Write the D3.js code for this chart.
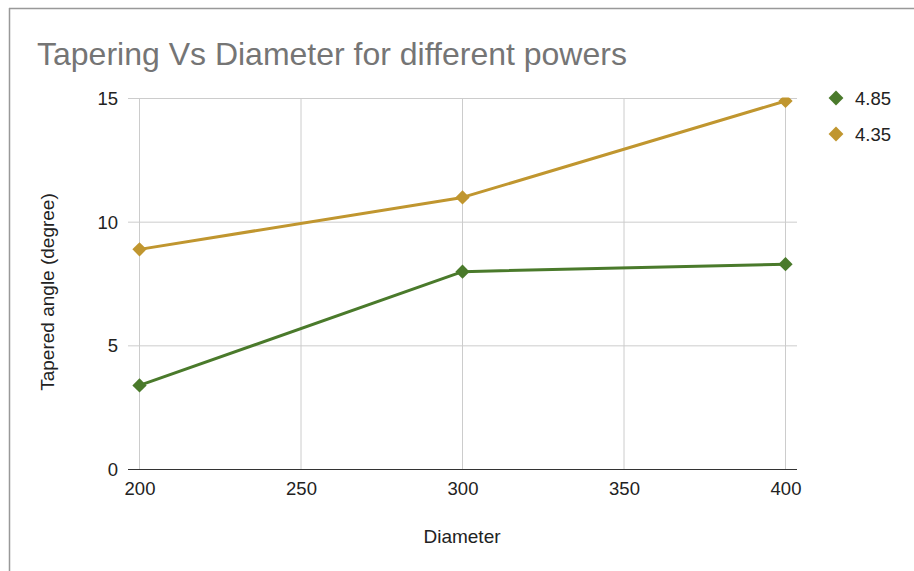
<!DOCTYPE html>
<html lang="en">
<head>
<meta charset="UTF-8">
<title>Tapering Vs Diameter</title>
<style>
    body { margin: 0; background: #fff; }
    svg { display: block; font-family: "Liberation Sans", Arial, sans-serif; }
    .tick text { font-size: 18.5px; fill: #222; }
</style>
</head>
<body>
<svg width="914" height="571"></svg>
<script src="https://d3js.org/d3.v7.min.js"></script>
<script>

var diameters = [200, 300, 400];
var series = ["4.85", "4.35"];
var values485 = [3.4, 8.0, 8.3];
var values435 = [8.9, 11.0, 14.9];
var colors = ["#4a7a2b", "#c0962f"];
var xTicks = [200, 250, 300, 350, 400];
var yTicks = [0, 5, 10, 15];

var svg = d3.select("svg"),
    width = +svg.attr("width"),
    height = +svg.attr("height");

// spreadsheet frame
svg.append("line").attr("x1", 9).attr("x2", width).attr("y1", 8.5).attr("y2", 8.5)
    .attr("stroke", "#999").attr("stroke-width", 1.5);
svg.append("line").attr("x1", 9.5).attr("x2", 9.5).attr("y1", 8).attr("y2", height)
    .attr("stroke", "#999").attr("stroke-width", 1.5);

var x = d3.scaleLinear().domain([200, 400]).range([139.5, 785.5]);
var y = d3.scaleLinear().domain([0, 15]).range([469.5, 98.5]);

// grid
svg.append("g").selectAll("line").data(yTicks.filter(function(d) { return d > 0; }))
    .enter().append("line")
    .attr("x1", 128).attr("x2", 797)
    .attr("y1", function(d) { return y(d); }).attr("y2", function(d) { return y(d); })
    .attr("stroke", "#cccccc");
svg.append("g").selectAll("line").data(xTicks)
    .enter().append("line")
    .attr("x1", function(d) { return x(d); }).attr("x2", function(d) { return x(d); })
    .attr("y1", y(15)).attr("y2", y(0))
    .attr("stroke", "#cccccc");

// axes
var xAxis = svg.append("g").attr("transform", "translate(0," + y(0) + ")")
    .call(d3.axisBottom(x).tickValues(xTicks).tickSize(0).tickPadding(12).tickFormat(d3.format("d")));
xAxis.select(".domain").remove();
svg.append("line").attr("x1", 128).attr("x2", 797).attr("y1", y(0)).attr("y2", y(0))
    .attr("stroke", "#333").attr("stroke-width", 1.2);

var yAxis = svg.append("g").attr("transform", "translate(128,0)")
    .call(d3.axisLeft(y).tickValues(yTicks).tickSize(0).tickPadding(10));
yAxis.select(".domain").remove();

// title and axis titles
svg.append("text").attr("x", 37).attr("y", 65)
    .attr("font-size", 32).attr("fill", "#757575")
    .text("Tapering Vs Diameter for different powers");
svg.append("text").attr("x", 462).attr("y", 543)
    .attr("text-anchor", "middle").attr("font-size", 19).attr("fill", "#222")
    .text("Diameter");
svg.append("text").attr("transform", "translate(54,292) rotate(-90)")
    .attr("text-anchor", "middle").attr("font-size", 19).attr("fill", "#222")
    .text("Tapered angle (degree)");

// lines + markers
var data = [values485, values435];
var line = d3.line().x(function(d, i) { return x(diameters[i]); }).y(function(d) { return y(d); });
var diamond = d3.symbol().type(d3.symbolDiamond2).size(130);

svg.append("clipPath").attr("id", "clip").append("rect")
    .attr("x", 0).attr("y", y(15) - 1).attr("width", width).attr("height", height);

var plot = svg.append("g").attr("clip-path", "url(#clip)");

// draw gold first so green sits on top
[1, 0].forEach(function(k) {
    plot.append("path").datum(data[k]).attr("d", line)
        .attr("fill", "none").attr("stroke", colors[k]).attr("stroke-width", 3)
        .attr("stroke-linejoin", "round");
    plot.selectAll(".m" + k).data(data[k]).enter().append("path")
        .attr("class", "m" + k)
        .attr("transform", function(d, i) { return "translate(" + x(diameters[i]) + "," + y(d) + ")"; })
        .attr("d", diamond).attr("fill", colors[k]);
});

// legend
var legend = svg.append("g").selectAll("g").data(series).enter().append("g")
    .attr("transform", function(d, i) { return "translate(836," + (98 + i * 36) + ")"; });
legend.append("path").attr("d", d3.symbol().type(d3.symbolDiamond2).size(140))
    .attr("fill", function(d, i) { return colors[i]; });
legend.append("text").attr("x", 19).attr("y", 6.5)
    .attr("font-size", 18.5).attr("fill", "#222")
    .text(function(d) { return d; });

</script>
</body>
</html>
